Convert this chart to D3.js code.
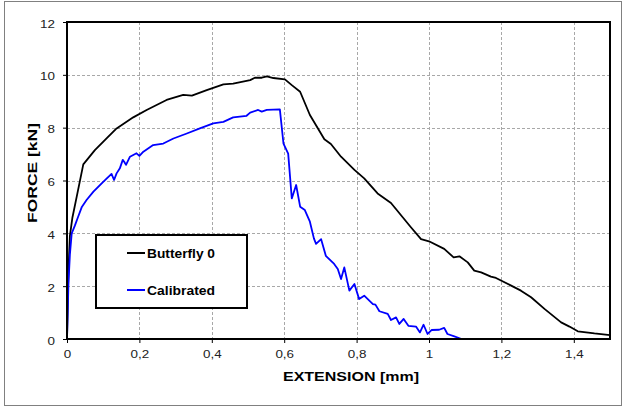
<!DOCTYPE html>
<html><head><meta charset="utf-8">
<script src="https://cdn.jsdelivr.net/npm/d3@7"></script>
<style>body{margin:0;background:#fff}svg{display:block}</style>
</head><body>
<script>
// Data
const seriesNames = ["Butterfly 0", "Calibrated"];
const butterflyX = [0,0.004,0.008,0.015,0.027,0.045,0.077,0.110,0.137,0.183,0.220,0.275,0.321,0.345,0.386,0.432,0.459,0.506,0.519,0.538,0.552,0.570,0.602,0.621,0.644,0.671,0.711,0.729,0.757,0.794,0.821,0.858,0.895,0.950,0.978,1.000,1.042,1.068,1.084,1.107,1.125,1.144,1.171,1.185,1.227,1.254,1.282,1.319,1.365,1.388,1.411,1.457,1.500];
const butterflyY = [0,2.6,3.9,4.6,5.4,6.61,7.15,7.6,7.97,8.39,8.67,9.05,9.24,9.21,9.42,9.64,9.67,9.80,9.89,9.89,9.94,9.88,9.83,9.61,9.36,8.48,7.56,7.38,6.90,6.40,6.08,5.51,5.15,4.23,3.78,3.70,3.41,3.09,3.13,2.90,2.59,2.52,2.36,2.31,2.02,1.83,1.58,1.14,0.63,0.47,0.29,0.21,0.15];
const calibratedX = [0,0.002,0.004,0.008,0.013,0.022,0.030,0.041,0.054,0.073,0.100,0.123,0.130,0.137,0.146,0.154,0.158,0.163,0.174,0.192,0.200,0.211,0.238,0.266,0.294,0.331,0.367,0.404,0.432,0.459,0.496,0.506,0.528,0.538,0.552,0.588,0.598,0.611,0.621,0.633,0.644,0.657,0.671,0.682,0.688,0.702,0.715,0.738,0.748,0.757,0.766,0.780,0.794,0.807,0.821,0.845,0.852,0.863,0.886,0.895,0.909,0.918,0.930,0.943,0.964,0.975,0.985,0.996,1.007,1.028,1.042,1.051,1.070,1.090];
const calibratedY = [0,1.0,2.1,3.2,4.0,4.3,4.6,5.0,5.26,5.58,5.95,6.25,6.02,6.27,6.46,6.78,6.71,6.59,6.90,7.03,6.93,7.09,7.34,7.40,7.59,7.78,7.97,8.16,8.22,8.39,8.45,8.57,8.67,8.61,8.67,8.69,7.40,7.02,5.32,5.83,5.01,4.88,4.44,3.81,3.60,3.78,3.15,2.84,2.65,2.27,2.71,1.83,2.08,1.51,1.64,1.32,1.30,1.05,0.95,0.72,0.82,0.57,0.76,0.50,0.47,0.25,0.54,0.19,0.34,0.35,0.42,0.19,0.10,0];
const seriesColors = ["#000000", "#0000ff"];
const xTicks = [0,0.2,0.4,0.6,0.8,1,1.2,1.4];
const xTickLabels = ["0","0,2","0,4","0,6","0,8","1","1,2","1,4"];
const yTicks = [0,2,4,6,8,10,12];
const xTitle = "EXTENSION [mm]";
const yTitle = "FORCE [kN]";

const W = 622, H = 407;
const L = 67, R = 610, T = 22, B = 339;
const SX = 1.22; // horizontal stretch of the original text rendering
const svg = d3.select("body").append("svg").attr("width", W).attr("height", H);
const font = "'Liberation Sans', Arial, sans-serif";

// outer frame
svg.append("rect").attr("x", 4.5).attr("y", 1.5).attr("width", 617).attr("height", 404)
  .attr("fill", "none").attr("stroke", "#808080").attr("stroke-width", 1);

const x = d3.scaleLinear().domain([0, 1.5]).range([L, R]);
const y = d3.scaleLinear().domain([0, 12]).range([B, T]);

// grid
svg.append("g").selectAll("line").data(xTicks.filter(d => d > 0)).join("line")
  .attr("x1", d => Math.round(x(d)) + 0.5).attr("x2", d => Math.round(x(d)) + 0.5)
  .attr("y1", T).attr("y2", B)
  .attr("stroke", "#a8a8a8").attr("stroke-dasharray", "3,2");
svg.append("g").selectAll("line").data(yTicks.filter(d => d > 0 && d < 12)).join("line")
  .attr("y1", d => Math.round(y(d)) + 0.5).attr("y2", d => Math.round(y(d)) + 0.5)
  .attr("x1", L).attr("x2", R)
  .attr("stroke", "#a8a8a8").attr("stroke-dasharray", "3,2");

// axes
const xAxis = d3.axisBottom(x).tickValues(xTicks).tickFormat((d, i) => xTickLabels[i]).tickSize(4);
const gx = svg.append("g").attr("transform", `translate(0,${B})`).call(xAxis);
const yAxis = d3.axisLeft(y).tickValues(yTicks).tickSize(4);
const gy = svg.append("g").attr("transform", `translate(${L},0)`).call(yAxis);
[gx, gy].forEach(g => {
  g.select(".domain").remove();
  g.selectAll("line").attr("stroke", "#000");
  g.selectAll("text").attr("font-family", font).attr("font-size", 11).attr("fill", "#222");
});
gx.selectAll("text").attr("dy", null).attr("y", 19).attr("transform", `scale(${SX},1)`);
gy.selectAll("text").attr("dy", null).attr("y", 5).attr("x", -12 / SX).attr("transform", `scale(${SX},1)`);

// series
const line = d3.line().x(d => x(d[0])).y(d => y(d[1]));
const dataSets = [d3.zip(butterflyX, butterflyY), d3.zip(calibratedX, calibratedY)];
dataSets.forEach((ds, i) => {
  svg.append("path").datum(ds).attr("d", line).attr("fill", "none")
    .attr("stroke", seriesColors[i]).attr("stroke-width", 1.8).attr("stroke-linejoin", "round");
});

// plot border
svg.append("rect").attr("x", L).attr("y", T).attr("width", R - L).attr("height", B - T)
  .attr("fill", "none").attr("stroke", "#000").attr("stroke-width", 2);

// legend
const lg = svg.append("g");
lg.append("rect").attr("x", 96).attr("y", 235).attr("width", 151).attr("height", 73)
  .attr("fill", "#fff").attr("stroke", "#000").attr("stroke-width", 2);
const ly = [253, 290];
seriesNames.forEach((n, i) => {
  lg.append("line").attr("x1", 127).attr("x2", 145).attr("y1", ly[i]).attr("y2", ly[i])
    .attr("stroke", seriesColors[i]).attr("stroke-width", 2);
  lg.append("text").attr("x", 147).attr("y", ly[i] + 4.5).text(n)
    .attr("textLength", 68).attr("lengthAdjust", "spacingAndGlyphs")
    .attr("font-family", font).attr("font-size", 12.5).attr("font-weight", "bold").attr("fill", "#000");
});

// titles
svg.append("text").attr("x", 351).attr("y", 381).attr("text-anchor", "middle").text(xTitle)
  .attr("textLength", 136).attr("lengthAdjust", "spacingAndGlyphs")
  .attr("font-family", font).attr("font-size", 12).attr("font-weight", "bold");
svg.append("text").attr("transform", `translate(37,173) rotate(-90)`).attr("text-anchor", "middle").text(yTitle)
  .attr("textLength", 100).attr("lengthAdjust", "spacingAndGlyphs")
  .attr("font-family", font).attr("font-size", 12).attr("font-weight", "bold");
</script>
</body></html>
